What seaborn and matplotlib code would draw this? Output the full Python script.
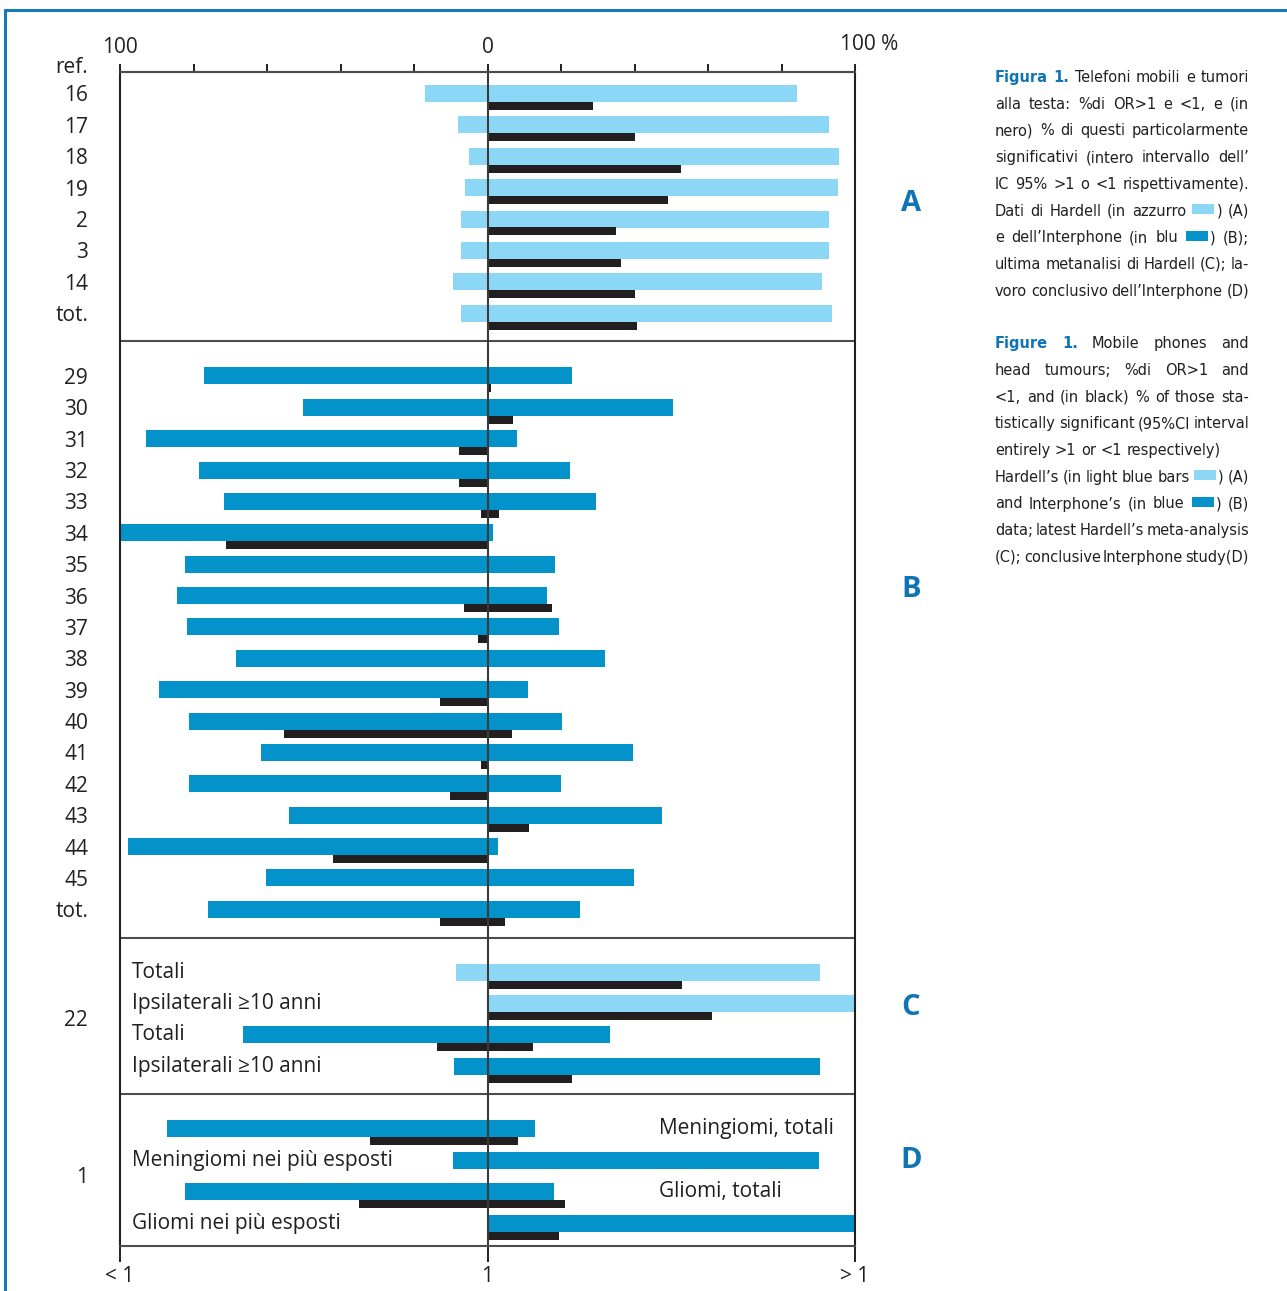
import re

import matplotlib

matplotlib.use("Agg")
import matplotlib.pyplot as plt
import matplotlib.transforms as mtransforms
from matplotlib import font_manager
from matplotlib.lines import Line2D
from matplotlib.patches import Rectangle
import numpy as np
import pandas as pd
import seaborn as sns

LIGHT = "#8DD7F6"
BLUE = "#0392C9"
DARK = "#231F20"
ACCENT = "#0E74B5"
RULE = "#4D4D4F"
FRAME = "#1779B9"

# A: Hardell (% OR<1 / OR>1, black = significant)
A_REFS = ["16", "17", "18", "19", "2", "3", "14", "tot."]
A_NEG = [-17.1, -7.9, -4.9, -6.0, -7.1, -7.3, -9.3, -7.3]
A_POS = [84.3, 93.0, 95.7, 95.4, 93.0, 93.0, 91.1, 93.8]
A_SIG_NEG = [0, 0, 0, 0, 0, 0, 0, 0]
A_SIG_POS = [28.8, 40.0, 52.7, 49.2, 35.0, 36.4, 40.0, 40.7]

# B: Interphone
B_REFS = ["29", "30", "31", "32", "33", "34", "35", "36", "37", "38", "39",
          "40", "41", "42", "43", "44", "45", "tot."]
B_NEG = [-77.2, -50.2, -93.0, -78.6, -71.8, -100.0, -82.4, -84.6, -81.8,
         -68.4, -89.4, -81.3, -61.7, -81.3, -54.1, -97.9, -60.3, -76.1]
B_POS = [22.9, 50.4, 8.0, 22.4, 29.5, 1.4, 18.3, 16.1, 19.4,
         31.9, 11.0, 20.2, 39.5, 19.9, 47.4, 2.8, 39.8, 25.1]
B_SIG_NEG = [0, 0, -7.8, -7.8, -1.8, -71.2, 0, -6.4, -2.6,
             0, -13.0, -55.4, -1.8, -10.3, 0, -42.1, 0, -13.0]
B_SIG_POS = [0.9, 6.9, 0, 0, 3.1, 0, 0, 17.5, 0,
             0, 0, 6.6, 0.4, 0, 11.2, 0, 0, 4.7]

# C: Hardell meta-analysis (ref. 22)
C_LABELS = ["Totali", "Ipsilaterali \u226510 anni", "Totali", "Ipsilaterali \u226510 anni"]
C_SOURCE = ["Hardell", "Hardell", "Interphone", "Interphone"]
C_NEG = [-8.7, 0, -66.6, -9.2]
C_POS = [90.5, 99.6, 33.3, 90.5]
C_SIG_NEG = [0, 0, -13.8, 0]
C_SIG_POS = [52.8, 61.0, 12.3, 22.9]

# D: Interphone conclusive study (ref. 1)
D_LABELS = ["Meningiomi, totali", "Meningiomi nei pi\u00f9 esposti",
            "Gliomi, totali", "Gliomi nei pi\u00f9 esposti"]
D_SOURCE = ["Interphone"] * 4
D_NEG = [-87.3, -9.4, -82.4, 0]
D_POS = [12.9, 90.2, 18.0, 99.7]
D_SIG_NEG = [-32.1, 0, -35.1, 0]
D_SIG_POS = [8.2, 0, 21.0, 19.4]

GROUP_LABELS = ["22", "1"]

CAPTION_IT = [
    ("*Figura *1. Telefoni mobili e tumori", True),
    ("alla testa: %di OR>1 e <1, e (in", True),
    ("nero) % di questi particolarmente", True),
    ("significativi (intero intervallo dell\u2019", True),
    ("IC 95% >1 o <1 rispettivamente).", True),
    ("Dati di Hardell (in azzurro [L]) (A)", True),
    ("e dell\u2019Interphone (in blu [B]) (B);", True),
    ("ultima metanalisi di Hardell (C); la-", True),
    ("voro conclusivo dell\u2019Interphone (D)", True),
]
CAPTION_EN = [
    ("*Figure *1. Mobile phones and", True),
    ("head tumours; %di OR>1 and", True),
    ("<1, and (in black) % of those sta-", True),
    ("tistically significant (95%CI interval", True),
    ("entirely >1 or <1 respectively)", False),
    ("Hardell\u2019s (in light blue bars [L]) (A)", True),
    ("and Interphone\u2019s (in blue [B]) (B)", True),
    ("data; latest Hardell\u2019s meta-analysis", True),
    ("(C); conclusive Interphone study(D)", True),
]

W_PX, H_PX = 1287, 1291
ROW_H = 0.542
SIG_H = 0.255
SIG_OFF = 0.398
CAP_X0, CAP_X1 = 995, 1249
SWATCH_W = 25


def pick_caption_font():
    # the caption is set in a condensed face; use one if the system has it
    for fam, stretch in (("Liberation Sans Narrow", "normal"), ("DejaVu Sans", "condensed"),
                         ("Roboto", "condensed"), ("Noto Sans", "condensed"), ("Open Sans", "condensed")):
        try:
            path = font_manager.findfont(font_manager.FontProperties(family=fam, stretch=stretch),
                                         fallback_to_default=False)
        except ValueError:
            continue
        if any(k in path for k in ("Narrow", "Condensed", "Cond")):
            return [fam], stretch
    return ["Lato", "DejaVu Sans"], "normal"


CAPTION_FONT, CAPTION_STRETCH = pick_caption_font()


def px_x(x):
    return x / W_PX


def px_y(y):
    return 1 - y / H_PX


def caption_text(fig, text, size, bold=False, **kw):
    return fig.text(0, 0, text, fontsize=size, family=CAPTION_FONT, fontstretch=CAPTION_STRETCH,
                    fontweight="bold" if bold else "normal", **kw)


def measure(fig, renderer, text, size, bold=False):
    t = caption_text(fig, text, size, bold)
    w = t.get_window_extent(renderer).width
    t.remove()
    return w


def split_words(line):
    words = []
    for token in line.split(" "):
        words.append([p for p in re.split(r"(\[L\]|\[B\])", token) if p])
    return words


def word_width(fig, renderer, parts, size):
    w = 0
    for p in parts:
        if p in ("[L]", "[B]"):
            w += SWATCH_W
        else:
            w += measure(fig, renderer, p.lstrip("*"), size, p.startswith("*"))
    return w


def fit_caption_size(fig, lines, base=14, tight=0.45):
    renderer = fig.canvas.get_renderer()
    space_w = measure(fig, renderer, "x x", base) - measure(fig, renderer, "xx", base)
    need = 0
    for line, _ in lines:
        words = split_words(line)
        total = sum(word_width(fig, renderer, parts, base) for parts in words)
        need = max(need, total + tight * space_w * (len(words) - 1))
    return base * min(1.0, (CAP_X1 - CAP_X0) / need)


def draw_caption(fig, lines, first_base, size, lead=26.7):
    renderer = fig.canvas.get_renderer()
    space_w = measure(fig, renderer, "x x", size) - measure(fig, renderer, "xx", size)
    for k, (line, justify) in enumerate(lines):
        base = first_base + k * lead
        words = []
        for token in split_words(line):
            parts = []
            for piece in token:
                if piece in ("[L]", "[B]"):
                    parts.append(("box", LIGHT if piece == "[L]" else BLUE, SWATCH_W))
                else:
                    bold = piece.startswith("*")
                    t = caption_text(fig, piece.lstrip("*"), size, bold,
                                     color=ACCENT if bold else DARK, va="baseline")
                    parts.append(("text", t, t.get_window_extent(renderer).width))
            words.append(parts)
        widths = [sum(p[2] for p in parts) for parts in words]
        gap = (CAP_X1 - CAP_X0 - sum(widths)) / (len(words) - 1) if justify else space_w
        x = CAP_X0
        for parts in words:
            for kind, obj, w in parts:
                if kind == "text":
                    obj.set_position((px_x(x), px_y(base)))
                else:
                    fig.add_artist(Rectangle((px_x(x + 1), px_y(base - 1.5)), px_x(22), 10 / H_PX,
                                             transform=fig.transFigure, color=obj, lw=0))
                x += w
            x += gap


def main():
    sns.set_theme(style="white")
    plt.rcParams["font.family"] = ["Open Sans", "DejaVu Sans"]
    plt.rcParams["text.color"] = DARK

    rows = np.concatenate([np.arange(8), np.arange(9, 27), np.arange(28, 32), np.arange(33, 37)])
    df = pd.DataFrame({
        "row": rows,
        "source": ["Hardell"] * 8 + ["Interphone"] * 18 + C_SOURCE + D_SOURCE,
        "neg": A_NEG + B_NEG + C_NEG + D_NEG,
        "pos": A_POS + B_POS + C_POS + D_POS,
        "sig_neg": A_SIG_NEG + B_SIG_NEG + C_SIG_NEG + D_SIG_NEG,
        "sig_pos": A_SIG_POS + B_SIG_POS + C_SIG_POS + D_SIG_POS,
    })
    df["sig_row"] = df["row"] + SIG_OFF

    fig = plt.figure(figsize=(W_PX / 100, H_PX / 100), dpi=100)
    ax = fig.add_axes([px_x(120), px_y(1246), px_x(735), 1174 / H_PX])
    palette = {"Hardell": LIGHT, "Interphone": BLUE}

    for col in ("neg", "pos"):
        sub = df[df[col] != 0]
        sns.barplot(data=sub, x=col, y="row", hue="source", palette=palette, orient="y",
                    native_scale=True, dodge=False, width=ROW_H, linewidth=0, saturation=1,
                    errorbar=None, legend=False, ax=ax)
    for col in ("sig_neg", "sig_pos"):
        sub = df[df[col] != 0]
        sns.barplot(data=sub, x=col, y="sig_row", color=DARK, orient="y", saturation=1,
                    native_scale=True, width=SIG_H, linewidth=0, errorbar=None, ax=ax)

    ax.set(xlabel="", ylabel="")
    ax.set_xlim(-100, 100)
    ax.set_ylim(36.73, -0.685)

    for name, spine in ax.spines.items():
        spine.set_visible(True)
        spine.set_linewidth(1.5)
        spine.set_color(DARK if name in ("left", "right") else RULE)
        spine.set_zorder(6)
    for y in (7.89, 26.91, 31.9):
        ax.axhline(y, color=RULE, lw=1.5, zorder=6)
    ax.axvline(0, color="#3A3A3A", lw=1.5, zorder=6)

    # bottom axis: OR scale
    ax.set_xticks([-100, 0, 100], ["< 1", "1", "> 1"])
    ax.tick_params(axis="x", bottom=True, direction="out", length=11.5, width=1.4,
                   color=DARK, pad=3, labelsize=15, labelcolor=DARK)

    # top axis: percentage scale
    top = ax.secondary_xaxis("top")
    top_ticks = list(range(-100, 101, 20))
    top.set_xticks(top_ticks, ["100" if t == -100 else "0" if t == 0 else "" for t in top_ticks])
    top.tick_params(direction="out", length=5.8, width=1.4, color=DARK, pad=4,
                    labelsize=15, labelcolor=DARK)
    top.spines["top"].set_color(RULE)
    top.spines["top"].set_linewidth(1.5)
    ax.text(1.0, 1.0, "100 %", fontsize=15, ha="left", va="center",
            transform=mtransforms.offset_copy(ax.transAxes, fig=fig, x=-15, y=27, units="dots"))

    # row labels
    ticks = list(df["row"].iloc[:26]) + [29.46, 34.46]
    ax.set_yticks(ticks, A_REFS + B_REFS + GROUP_LABELS)
    ax.tick_params(axis="y", left=True, length=0, pad=23, labelsize=15, labelcolor=DARK)
    ax.text(-0.0435, -0.83, "ref.", transform=ax.get_yaxis_transform(), ha="right",
            va="center", fontsize=15, clip_on=False)

    for label, row in zip(C_LABELS, df["row"].iloc[26:30]):
        ax.text(-96.7, row, label, ha="left", va="center", fontsize=15)
    for k, (label, row) in enumerate(zip(D_LABELS, df["row"].iloc[30:34])):
        ax.text(46.8 if k % 2 == 0 else -96.7, row, label, ha="left", va="center", fontsize=15)

    for letter, y in zip("ABCD", (3.52, 15.82, 29.14, 33.99)):
        ax.text(1.0762, y, letter, transform=ax.get_yaxis_transform(), ha="center",
                va="center", fontsize=21, fontweight="bold", color=ACCENT, clip_on=False)

    # outer frame
    fig.add_artist(Line2D([px_x(5), px_x(5)], [0, px_y(10)], transform=fig.transFigure,
                          color=FRAME, lw=2.2))
    fig.add_artist(Line2D([px_x(5), 1], [px_y(10), px_y(10)], transform=fig.transFigure,
                          color=FRAME, lw=2.2))

    size = fit_caption_size(fig, CAPTION_IT + CAPTION_EN)
    draw_caption(fig, CAPTION_IT, 82, size)
    draw_caption(fig, CAPTION_EN, 348.3, size)

    fig.savefig("out.png", dpi=100)
    plt.close(fig)


if __name__ == "__main__":
    main()
